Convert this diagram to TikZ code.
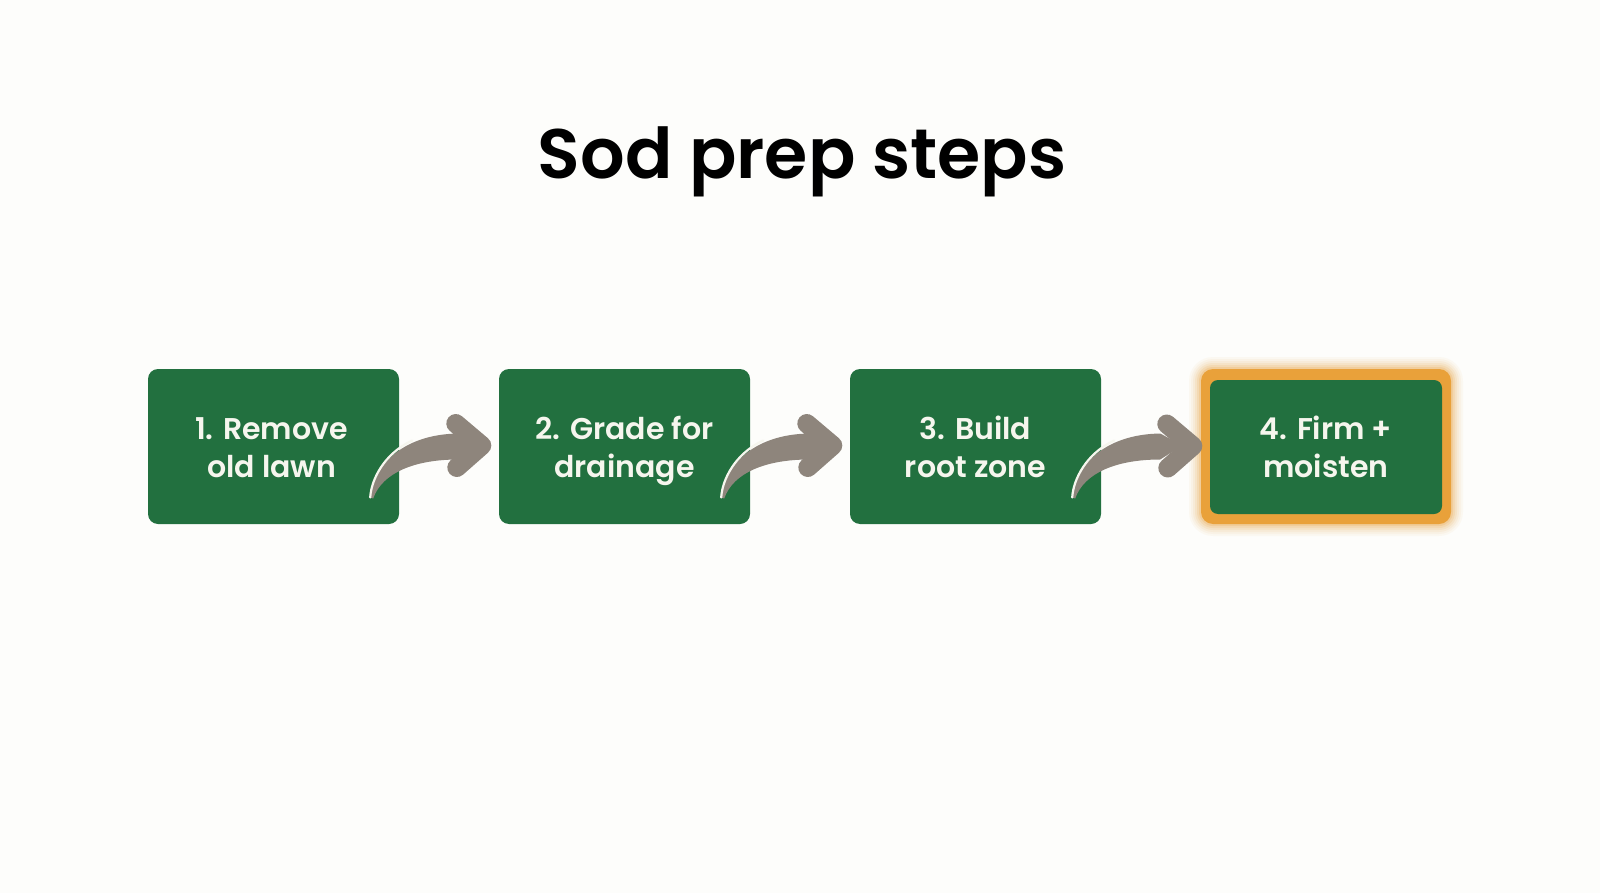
\documentclass[tikz,border=0pt]{standalone}
\usepackage{fontspec}
\setmainfont{Poppins}
\newfontfamily\titlefont{Poppins}[UprightFont=* SemiBold]
\newfontfamily\boxfont{Poppins}[UprightFont=* SemiBold]
\usetikzlibrary{calc}
\definecolor{bg}{HTML}{FDFDFB}
\definecolor{boxgreen}{HTML}{22703F}
\definecolor{txt}{HTML}{F6F6EE}
\definecolor{arrowgray}{HTML}{8E857C}
\definecolor{glow}{HTML}{E9A13A}
\begin{document}
\begin{tikzpicture}[x=1pt,y=-1pt,
  stepbox/.style={fill=boxgreen, rounded corners=10pt, minimum width=251pt, minimum height=155pt,
    inner sep=0pt, text=txt, align=center, font=\boxfont\fontsize{30}{38}\selectfont},
  finalbox/.style={stepbox, minimum width=232pt, minimum height=134pt, rounded corners=8pt},
  lbl/.style={text=txt, align=center, font=\boxfont\fontsize{30}{38}\selectfont, inner sep=0pt},
]
\useasboundingbox[fill=bg] (0,0) rectangle (1600,893);
\node[font=\titlefont\fontsize{70}{80}\selectfont, anchor=base, text=black] (title) at (802,179) {Sod prep steps};

\node[stepbox] (b1) at (273.5,446.5) {};
\node[stepbox] (b2) at (624.5,446.5) {};
\node[stepbox] (b3) at (975.5,446.5) {};
% glow for final box
\foreach \r/\o in {12/0.05,10/0.06,8/0.08,6/0.10,4/0.14,2/0.2} {
  \fill[glow, opacity=\o, rounded corners=12pt+\r] (1201-\r,369-\r) rectangle (1451+\r,524+\r);
}
\fill[glow, rounded corners=12pt] (1201,369) rectangle (1451,524);
\node[finalbox] (b4) at (1326,447) {};

\node[lbl] (t1) at ($(b1.center)+(-2,4)$) {\strut 1. Remove\\\strut old lawn};
\node[lbl] (t2) at ($(b2.center)+(0,4)$) {\strut 2. Grade for\\\strut drainage};
\node[lbl] (t3) at ($(b3.center)+(0,4)$) {\strut 3. Build\\\strut root zone};
\node[lbl] (t4) at ($(b4.center)+(0,4)$) {\strut 4. Firm +\\\strut moisten};

\newcommand{\curvedarrow}[2]{%
  \begin{scope}[shift={($(#1.east)+(-29,51)$)}]
    \fill[arrowgray] (0,0) .. controls (3,-30) and (30,-63) .. (88,-64)
       -- (110,-52) -- (88,-38) .. controls (45,-38) and (12,-25) .. (3,1) -- cycle;
    \draw[txt, line width=2.2pt, line cap=round] (0,0) .. controls (1,-18) and (14,-44) .. (42,-57);
  \end{scope}
  \draw[arrowgray, line width=19pt, line cap=round, line join=round]
    ($(#2.west)+(-43,-23)$) -- ($(#2.west)+(-17,-1)$) -- ($(#2.west)+(-42,21)$);
}
\curvedarrow{b1}{b2}
\curvedarrow{b2}{b3}
\curvedarrow{b3}{b4}
\end{tikzpicture}
\end{document}
